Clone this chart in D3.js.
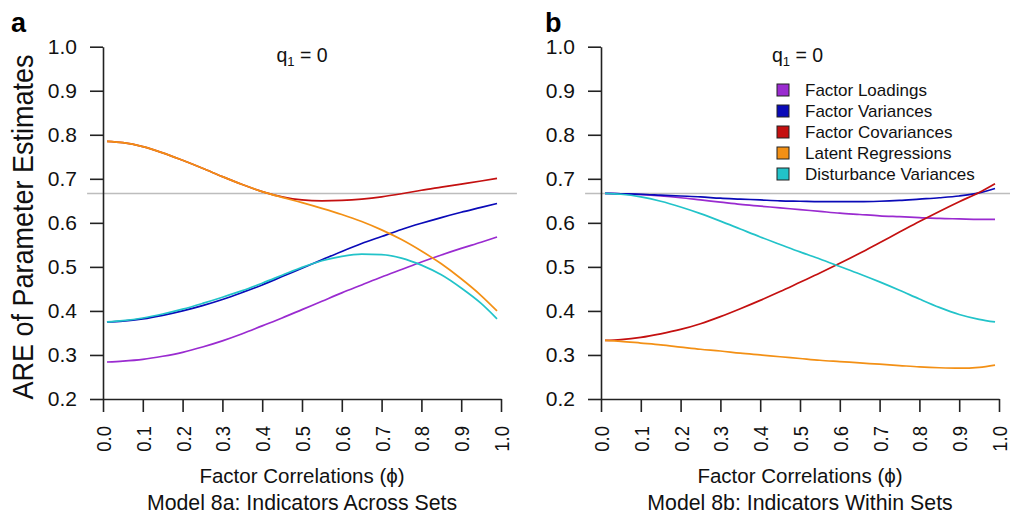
<!DOCTYPE html>
<html>
<head>
<meta charset="utf-8">
<script src="https://cdn.jsdelivr.net/npm/d3@7"></script>
<style>
  html, body { margin: 0; padding: 0; background: #fff; }
  svg { display: block; font-family: "Liberation Sans", Arial, sans-serif; }
</style>
</head>
<body>
<svg id="chart" width="1010" height="514"></svg>
<script>
// ---------------- DATA ----------------
const phi = [0.01, 0.05, 0.1, 0.15, 0.2, 0.25, 0.3, 0.35, 0.4, 0.45, 0.5,
             0.55, 0.6, 0.65, 0.7, 0.75, 0.8, 0.85, 0.9, 0.95, 0.99];

const seriesNames = ["Factor Loadings", "Factor Variances", "Factor Covariances",
                     "Latent Regressions", "Disturbance Variances"];
const seriesColors = ["#9a2bd0", "#0a0ab8", "#c41010", "#f39015", "#22c3c9"];

const xTicks = [0, 0.1, 0.2, 0.3, 0.4, 0.5, 0.6, 0.7, 0.8, 0.9, 1.0];
const yTicks = [0.2, 0.3, 0.4, 0.5, 0.6, 0.7, 0.8, 0.9, 1.0];
const refValue = 2 / 3;

// Panel a: Model 8a (Indicators Across Sets)
const aLoadings     = [0.284, 0.286, 0.290, 0.297, 0.306, 0.318, 0.332, 0.348, 0.366, 0.384, 0.403,
                       0.422, 0.441, 0.459, 0.477, 0.494, 0.511, 0.527, 0.542, 0.556, 0.568];
const aVariances    = [0.375, 0.377, 0.382, 0.390, 0.400, 0.412, 0.426, 0.442, 0.459, 0.478, 0.497,
                       0.516, 0.535, 0.553, 0.569, 0.585, 0.599, 0.612, 0.624, 0.635, 0.644];
const aCovariances  = [0.785, 0.782, 0.773, 0.759, 0.742, 0.724, 0.705, 0.687, 0.671, 0.659, 0.652,
                       0.650, 0.651, 0.654, 0.659, 0.666, 0.674, 0.681, 0.688, 0.695, 0.701];
const aRegressions  = [0.785, 0.782, 0.773, 0.759, 0.742, 0.724, 0.705, 0.687, 0.671, 0.658, 0.646,
                       0.633, 0.619, 0.603, 0.584, 0.562, 0.536, 0.507, 0.473, 0.435, 0.400];
const aDisturbances = [0.375, 0.378, 0.384, 0.393, 0.404, 0.417, 0.431, 0.446, 0.463, 0.481, 0.499,
                       0.514, 0.524, 0.529, 0.528, 0.520, 0.504, 0.482, 0.452, 0.417, 0.382];

// Panel b: Model 8b (Indicators Within Sets)
const bLoadings     = [0.667, 0.666, 0.664, 0.661, 0.657, 0.652, 0.647, 0.642, 0.638, 0.634, 0.630,
                       0.626, 0.622, 0.619, 0.616, 0.614, 0.612, 0.610, 0.609, 0.608, 0.608];
const bVariances    = [0.667, 0.666, 0.665, 0.663, 0.661, 0.659, 0.656, 0.654, 0.652, 0.650, 0.649,
                       0.648, 0.648, 0.648, 0.649, 0.651, 0.654, 0.657, 0.661, 0.668, 0.678];
const bCovariances  = [0.333, 0.335, 0.340, 0.348, 0.358, 0.371, 0.387, 0.405, 0.424, 0.444, 0.465,
                       0.486, 0.508, 0.531, 0.555, 0.579, 0.603, 0.626, 0.648, 0.669, 0.689];
const bRegressions  = [0.333, 0.331, 0.327, 0.323, 0.318, 0.313, 0.309, 0.304, 0.300, 0.296, 0.292,
                       0.288, 0.285, 0.282, 0.279, 0.276, 0.273, 0.271, 0.270, 0.272, 0.277];
const bDisturbances = [0.667, 0.665, 0.659, 0.649, 0.636, 0.621, 0.604, 0.586, 0.568, 0.551, 0.534,
                       0.518, 0.501, 0.484, 0.466, 0.447, 0.427, 0.408, 0.392, 0.381, 0.375];

const panels = [
  { letter: "a", caption: "Model 8a: Indicators Across Sets",
    series: [aLoadings, aVariances, aCovariances, aRegressions, aDisturbances],
    legend: false },
  { letter: "b", caption: "Model 8b: Indicators Within Sets",
    series: [bLoadings, bVariances, bCovariances, bRegressions, bDisturbances],
    legend: true }
];

// ---------------- LAYOUT ----------------
const svg = d3.select("#chart");
const layout = [
  { x0: 103, x1: 501, letterX: 11, qX: 302, qAnchor: "middle" },
  { x0: 601, x1: 999, letterX: 545, qX: 772, qAnchor: "start" }
];
const yTop = 46.7, yBot = 399;
const tickLen = 13;
const axisColor = "#222";
const textColor = "#111";
const fontFam = "'Liberation Sans', Arial, sans-serif";

panels.forEach((p, i) => {
  const L = layout[i];
  const x = d3.scaleLinear().domain([0, 1]).range([L.x0, L.x1]);
  const y = d3.scaleLinear().domain([0.2, 1.0]).range([yBot, yTop]);
  const g = svg.append("g");

  // reference line at 2/3 (spans expanded plot region)
  g.append("line")
    .attr("x1", x(-0.04)).attr("x2", Math.min(x(1.04), 1010))
    .attr("y1", y(refValue)).attr("y2", y(refValue))
    .attr("stroke", "#bdbdbd").attr("stroke-width", 1.5);

  // curves
  const line = d3.line()
    .x((d, k) => x(phi[k]))
    .y(d => y(d))
    .curve(d3.curveMonotoneX);
  p.series.forEach((vals, s) => {
    g.append("path")
      .datum(vals)
      .attr("d", line)
      .attr("fill", "none")
      .attr("stroke", seriesColors[s])
      .attr("stroke-width", 1.7);
  });

  // x axis
  const xAxis = g.append("g")
    .attr("transform", `translate(0,${yBot})`)
    .call(d3.axisBottom(x).tickValues(xTicks).tickSize(tickLen).tickSizeOuter(0)
          .tickFormat(d3.format(".1f")));
  xAxis.select(".domain").attr("stroke", axisColor).attr("stroke-width", 1.6);
  xAxis.selectAll(".tick line").attr("stroke", axisColor).attr("stroke-width", 1.6);
  const sx = 0.88;
  xAxis.selectAll(".tick text")
    .attr("fill", textColor)
    .style("font-size", "21px")
    .style("font-family", fontFam)
    .attr("transform", `rotate(-90) scale(${sx},1)`)
    .attr("text-anchor", "end")
    .attr("x", -27 / sx)
    .attr("y", 0)
    .attr("dy", "0.36em");

  // y axis
  const yAxis = g.append("g")
    .attr("transform", `translate(${L.x0},0)`)
    .call(d3.axisLeft(y).tickValues(yTicks).tickSize(tickLen).tickSizeOuter(0)
          .tickPadding(13).tickFormat(d3.format(".1f")));
  yAxis.select(".domain").attr("stroke", axisColor).attr("stroke-width", 1.6);
  yAxis.selectAll(".tick line").attr("stroke", axisColor).attr("stroke-width", 1.6);
  yAxis.selectAll(".tick text")
    .attr("fill", textColor)
    .style("font-size", "21px")
    .style("font-family", fontFam);

  // axis title and caption
  const cx = (L.x0 + L.x1) / 2;
  g.append("text")
    .attr("x", cx).attr("y", 483)
    .attr("text-anchor", "middle")
    .attr("fill", textColor)
    .style("font-size", "20.5px")
    .text("Factor Correlations (\u03D5)");
  g.append("text")
    .attr("x", cx).attr("y", 510)
    .attr("text-anchor", "middle")
    .attr("fill", textColor)
    .style("font-size", "21.3px")
    .text(p.caption);

  // panel letter
  g.append("text")
    .attr("x", L.letterX).attr("y", 31.5)
    .attr("fill", "#000")
    .style("font-size", "27px")
    .style("font-weight", "bold")
    .text(p.letter);

  // q1 = 0
  const q = g.append("text")
    .attr("x", L.qX).attr("y", 62)
    .attr("text-anchor", L.qAnchor)
    .attr("fill", textColor)
    .style("font-size", "19.5px");
  q.append("tspan").text("q");
  q.append("tspan").attr("dy", 4).style("font-size", "13px").text("1");
  q.append("tspan").attr("dy", -4).text(" = 0");

  // legend
  if (p.legend) {
    const lg = g.append("g");
    seriesNames.forEach((name, s) => {
      const cy = 90 + s * 21;
      lg.append("rect")
        .attr("x", 777).attr("y", cy - 6)
        .attr("width", 12).attr("height", 12)
        .attr("fill", seriesColors[s])
        .attr("stroke", "#222").attr("stroke-width", 1);
      lg.append("text")
        .attr("x", 805).attr("y", cy)
        .attr("dy", "0.36em")
        .attr("fill", textColor)
        .style("font-size", "17px")
        .text(name);
    });
  }
});

// shared y-axis title
svg.append("text")
  .attr("transform", "translate(33,227) rotate(-90) scale(0.9,1)")
  .attr("text-anchor", "middle")
  .attr("fill", textColor)
  .style("font-size", "30px")
  .text("ARE of Parameter Estimates");
</script>
</body>
</html>
